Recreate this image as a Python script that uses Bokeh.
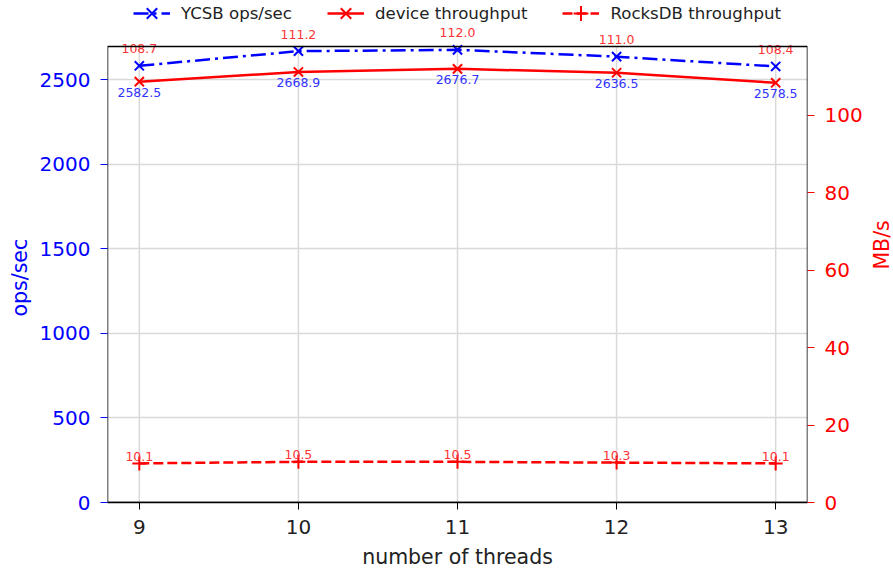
import math
from bokeh.plotting import figure
from bokeh.layouts import row
from bokeh.models import (LinearAxis, Range1d, FixedTicker, Legend, LegendItem,
                          BoxAnnotation, Title)
from bokeh.core.properties import value
from bokeh.embed import file_html
from bokeh.resources import INLINE

threads = [9, 10, 11, 12, 13]
ycsb_ops = [2582.5, 2668.9, 2676.7, 2636.5, 2578.5]
device_tp = [108.7, 111.2, 112.0, 111.0, 108.4]
rocksdb_tp = [10.1, 10.5, 10.5, 10.3, 10.1]
left_ticks = [0, 500, 1000, 1500, 2000, 2500]
right_ticks = [0, 20, 40, 60, 80, 100]

FONT = "DejaVu Sans"
BLUE = "#0000ff"
RED = "#ff0000"

# axes box limits (the frame extends above the box to leave room for the legend)
X_MIN, X_MAX = 8.8, 13.2
L_TOP, R_TOP = 2697, 117.8
FRAME_H, BOX_H = 503, 457
MAIN_W, LABEL_W, H = 870, 23, 571

p = figure(width=MAIN_W, height=H, output_backend="svg", toolbar_location=None,
           x_range=Range1d(X_MIN, X_MAX), y_range=Range1d(0, L_TOP * FRAME_H / BOX_H),
           min_border_left=107, min_border_right=63, min_border_top=0, min_border_bottom=68)
p.extra_y_ranges = {"right": Range1d(0, R_TOP * FRAME_H / BOX_H)}

p.outline_line_color = None
p.background_fill_color = "white"
p.border_fill_color = "white"

# axes
p.xaxis.ticker = FixedTicker(ticks=threads)
p.xaxis.axis_label = "number of threads"
p.xaxis.axis_label_text_font = FONT
p.xaxis.axis_label_text_font_size = "20.5px"
p.xaxis.axis_label_text_font_style = "normal"
p.xaxis.axis_label_text_color = "#222222"
p.xaxis.axis_label_standoff = 8
p.xaxis.major_label_text_font = FONT
p.xaxis.major_label_text_font_size = "20px"
p.xaxis.major_label_text_color = "#222222"
p.xaxis.major_label_standoff = 10
p.xaxis.axis_line_color = "black"
p.xaxis.axis_line_width = 1.5
p.xaxis.major_tick_line_color = "black"
p.xaxis.major_tick_out = 7
p.xaxis.major_tick_in = 0
p.xaxis.minor_tick_line_color = None

p.yaxis.ticker = FixedTicker(ticks=left_ticks)
p.yaxis.major_label_text_font = FONT
p.yaxis.major_label_text_font_size = "20px"
p.yaxis.major_label_text_color = BLUE
p.yaxis.major_label_standoff = 10
p.yaxis.axis_line_color = None
p.yaxis.major_tick_line_color = BLUE
p.yaxis.major_tick_out = 7
p.yaxis.major_tick_in = 0
p.yaxis.minor_tick_line_color = None

# left axis title (centred on the axes box, not on the taller frame)
p.add_layout(Title(text="ops/sec", align="left", offset=186, standoff=9,
                   text_font=FONT, text_font_size="20.5px", text_font_style="normal",
                   text_color=BLUE), "left")

ra = LinearAxis(y_range_name="right", ticker=FixedTicker(ticks=right_ticks))
ra.major_label_text_font = FONT
ra.major_label_text_font_size = "20px"
ra.major_label_text_color = RED
ra.major_label_standoff = 10
ra.axis_line_color = None
ra.major_tick_line_color = RED
ra.major_tick_out = 7
ra.major_tick_in = 0
ra.minor_tick_line_color = None
p.add_layout(ra, "right")

# grid
p.xgrid.grid_line_color = None
p.ygrid.grid_line_color = "#d9d9d9"
p.ygrid.grid_line_width = 1.5
p.segment(x0=threads, x1=threads, y0=[0] * len(threads), y1=[L_TOP] * len(threads),
          line_color="#d9d9d9", line_width=1.5, level="underlay")

# axes box (spines)
p.add_layout(BoxAnnotation(left=X_MIN, right=X_MAX, bottom=0, top=L_TOP,
                           fill_alpha=0, line_color="black", line_alpha=1.0,
                           line_width=1.5))

# series
l1 = p.line(threads, ycsb_ops, line_color=BLUE, line_width=2.5, line_dash="15 5 3 5")
s1 = p.scatter(threads, ycsb_ops, marker="x", size=13, line_color=BLUE, line_width=2)

l2 = p.line(threads, device_tp, y_range_name="right", line_color=RED, line_width=2.5)
s2 = p.scatter(threads, device_tp, y_range_name="right", marker="x", size=13,
               line_color=RED, line_width=2)

l3 = p.line(threads, rocksdb_tp, y_range_name="right", line_color=RED, line_width=2.5,
            line_dash="10 4")
s3 = p.scatter(threads, rocksdb_tp, y_range_name="right", marker="cross",
               size=14, line_color=RED, line_width=2)

# annotations
p.text(threads, ycsb_ops, text=[f"{v:.1f}" for v in device_tp],
       text_font=value(FONT), text_font_size="12.5px", text_color="#ff3333",
       text_align="center", text_baseline="alphabetic", y_offset=-17)
p.text(threads, device_tp, y_range_name="right", text=[f"{v:.1f}" for v in ycsb_ops],
       text_font=value(FONT), text_font_size="12.5px", text_color="#3333ff",
       text_align="center", text_baseline="alphabetic", y_offset=11)
p.text(threads, rocksdb_tp, y_range_name="right", text=[f"{v:.1f}" for v in rocksdb_tp],
       text_font=value(FONT), text_font_size="12.5px", text_color="#ff3333",
       text_align="center", text_baseline="alphabetic", y_offset=-7)

legend = Legend(items=[
    LegendItem(label="YCSB ops/sec", renderers=[l1, s1]),
    LegendItem(label="device throughput", renderers=[l2, s2]),
    LegendItem(label="RocksDB throughput", renderers=[l3, s3]),
], location=(26, 470), orientation="horizontal")
legend.border_line_color = None
legend.background_fill_alpha = 0
legend.padding = 0
legend.margin = 0
legend.spacing = 35
legend.glyph_width = 37
legend.glyph_height = 38
legend.label_standoff = 11
legend.label_text_font = FONT
legend.label_text_font_size = "16.6px"
legend.label_text_color = "#222222"
p.add_layout(legend, "center")

# right-hand axis title, in a narrow strip so it can sit centred on the axes box
lab = figure(width=LABEL_W, height=H, output_backend="svg", toolbar_location=None,
             x_range=Range1d(0, LABEL_W), y_range=Range1d(0, H), min_border=0,
             x_axis_location=None, y_axis_location=None)
lab.outline_line_color = None
lab.grid.grid_line_color = None
lab.background_fill_color = "white"
lab.border_fill_color = "white"
lab.text(x=[11], y=[H - 278], text=["MB/s"], angle=math.pi / 2,
         text_font=value(FONT), text_font_size="20.5px", text_color=RED,
         text_align="center", text_baseline="middle")

layout = row(p, lab, spacing=0)
open("out.html", "w").write(file_html(layout, INLINE))
